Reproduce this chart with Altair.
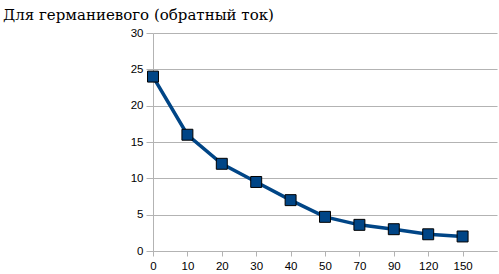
import altair as alt
import pandas as pd

categories = ["0", "10", "20", "30", "40", "50", "70", "90", "120", "150"]
values = [24, 16, 12, 9.5, 7, 4.7, 3.6, 3.0, 2.3, 2.0]

df = pd.DataFrame({"x": categories, "y": values})

x = alt.X("x:O", sort=categories,
          scale=alt.Scale(type="point", padding=0.5, align=0),
          axis=alt.Axis(title=None, labelAngle=0, grid=False, domainColor="#b3b3b3",
                        tickColor="#b3b3b3", tickSize=5, labelPadding=4,
                        labelFont="Liberation Sans", labelFontSize=11.5, labelColor="black"))
y = alt.Y("y:Q", scale=alt.Scale(domain=[0, 30], nice=False),
          axis=alt.Axis(title=None, values=[0, 5, 10, 15, 20, 25, 30], grid=True,
                        gridColor="#b3b3b3", domainColor="#b3b3b3", tickColor="#b3b3b3",
                        tickSize=7, labelPadding=3,
                        labelFont="Liberation Sans", labelFontSize=11.5, labelColor="black"))

line = alt.Chart(df).mark_line(color="#004586", strokeWidth=3.5).encode(x=x, y=y)
pts = alt.Chart(df).mark_point(shape="square", filled=True, fill="#004586", stroke="black",
                               strokeWidth=1, size=120, opacity=1).encode(x=x, y=y)

chart = (line + pts).properties(
    width=344, height=218,
    title=alt.TitleParams("Для германиевого (обратный ток)", anchor="start", frame="group",
                          font="DejaVu Serif",
                          fontSize=15, fontWeight="normal",
                          color="black", dx=-150, offset=4),
    autosize=alt.AutoSizeParams(type="none"),
    padding={"left": 153, "top": 33, "right": 2, "bottom": 23},
).configure_view(stroke=None)

chart.save("out.html", embed_options={"renderer": "svg", "actions": False})
